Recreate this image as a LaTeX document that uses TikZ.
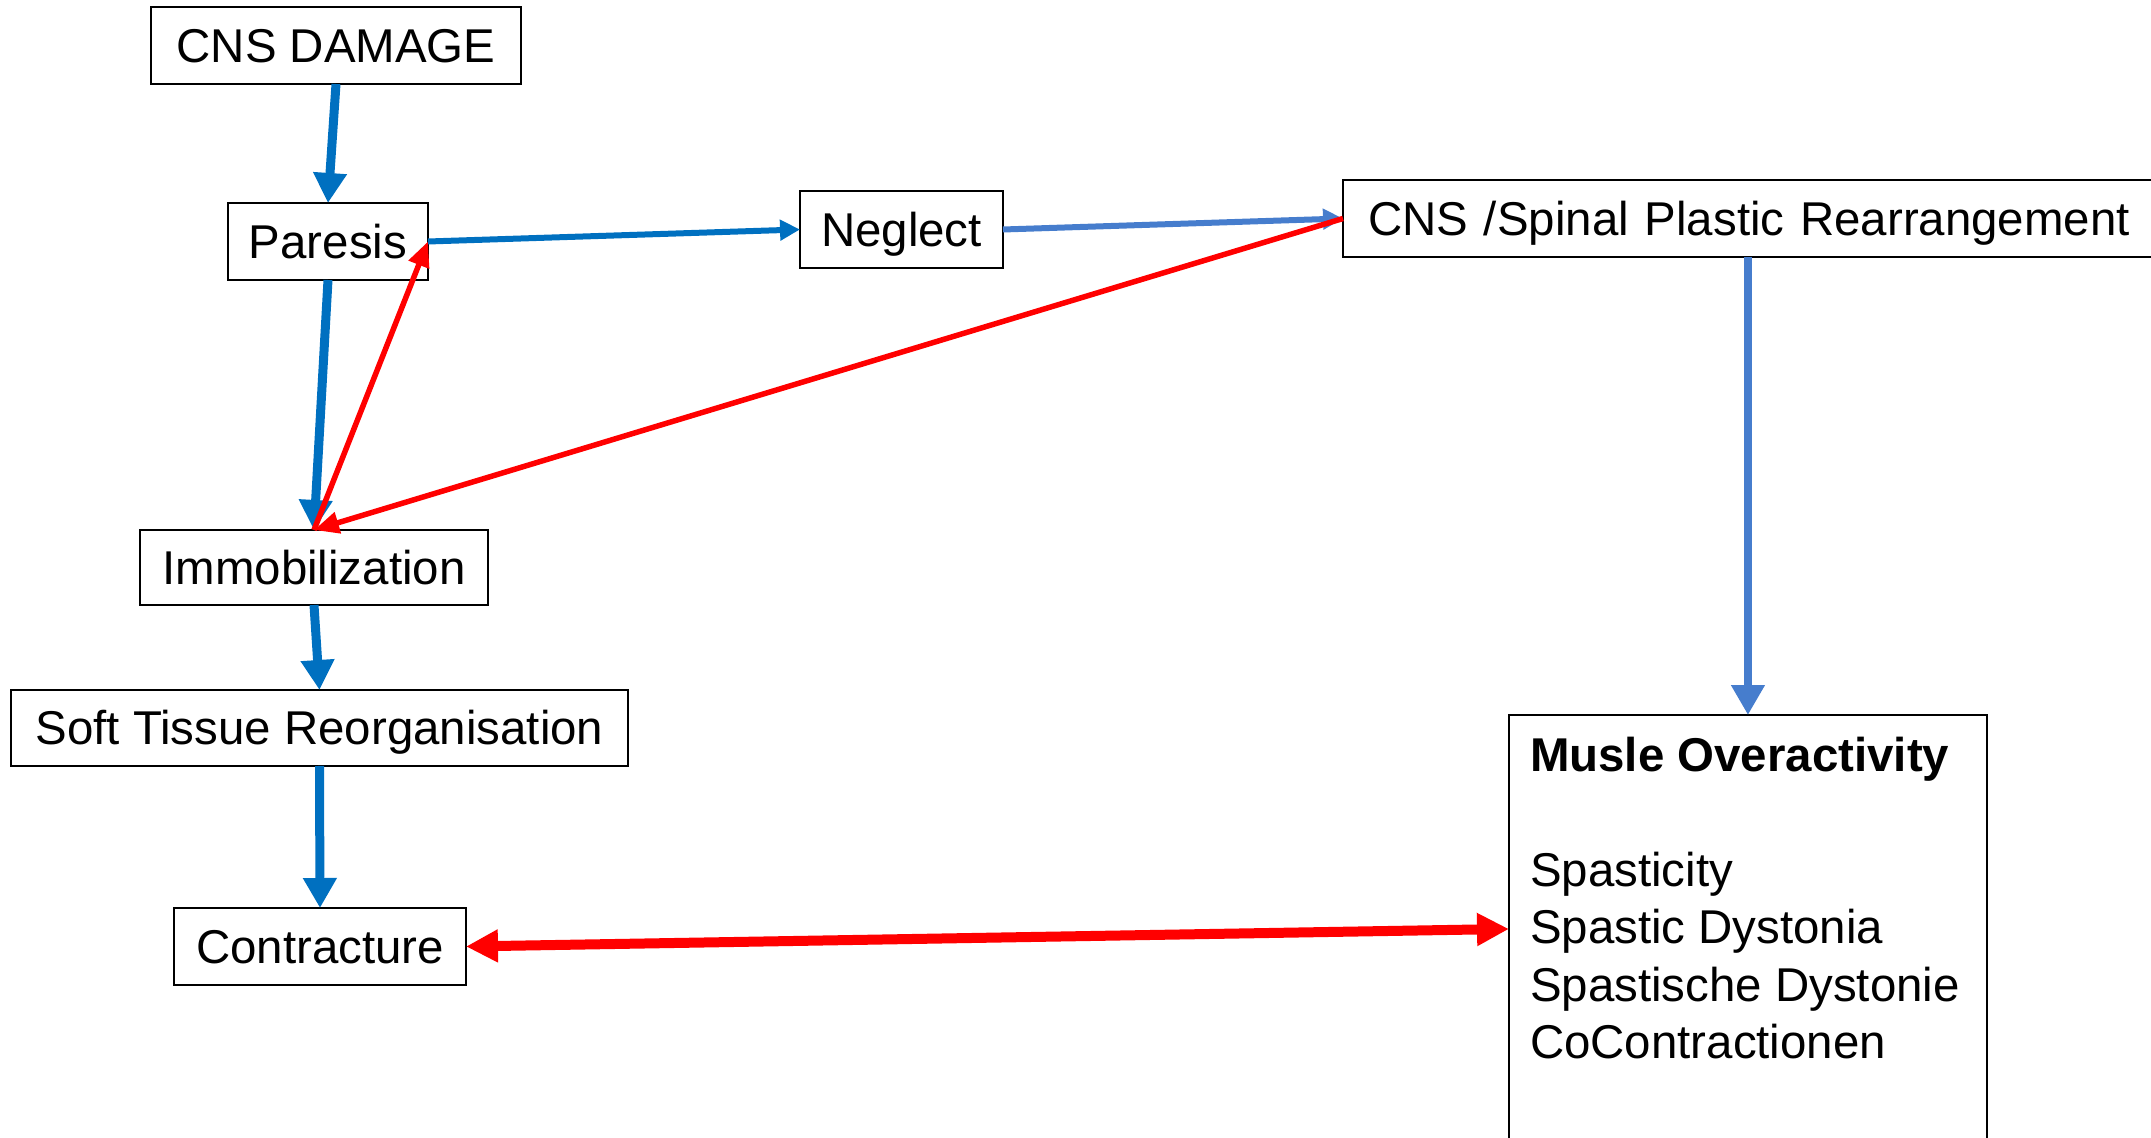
\documentclass[tikz,border=0pt]{standalone}
\usepackage{xcolor}
\definecolor{darkblue}{RGB}{0,112,192}
\definecolor{lightblue}{RGB}{70,125,205}
\definecolor{arrowred}{RGB}{255,0,0}
\usepackage{fontspec}
\setmainfont{Liberation Sans}
\usepackage{tikz}
\usetikzlibrary{arrows.meta}

\begin{document}
\begin{tikzpicture}[x=0.02cm,y=-0.02cm,every node/.style={font=\fontsize{27pt}{32.7pt}\selectfont,inner sep=0pt,outer sep=0pt},
box/.style={draw=black,line width=1.1pt,minimum height=1.54cm,text height=25pt,text depth=5.7pt},
bigblue/.style={draw=darkblue,line width=0.18cm,-{Triangle[width=0.64cm,length=0.6cm]}},
thinblue/.style={draw=darkblue,line width=0.12cm,-{Triangle[width=0.4cm,length=0.4cm]}},
thinred/.style={draw=arrowred,line width=0.11cm,-{Triangle[width=0.42cm,length=0.5cm]}}]
\useasboundingbox (0,0) rectangle (2151,1138);
% boxes
\node[box,minimum width=7.4cm] (damage) at (336,45.5) {CNS DAMAGE};
\node[box,minimum width=4cm] (paresis) at (328,241.5) {Paresis};
\node[box,minimum width=4.06cm] (neglect) at (901.5,229.5) {Neglect};
\node[box,anchor=west,text width=16cm,inner xsep=0.5cm,align=left] (spinal) at (1343,218.5) {CNS /Spinal Plastic Rearrangement};
\node[box,minimum width=6.96cm,minimum height=1.5cm] (immob) at (314,567.5) {Immobilization};
\node[box,minimum width=12.34cm,minimum height=1.52cm] (soft) at (319.5,728) {Soft Tissue Reorganisation};
\node[box,minimum width=5.84cm] (contract) at (320,946.5) {Contracture};
\node[draw=black,line width=1.1pt,anchor=north west,minimum width=9.56cm,minimum height=9cm] (musle) at (1509,715) {};
\node[anchor=north west,align=left] (musletext) at (1530,737) {\textbf{Musle Overactivity}\\[1.15cm]Spasticity\\Spastic Dystonia\\Spastische Dystonie\\CoContractionen};
% blue chain
\draw[bigblue] (damage.south) -- (paresis.north);
\draw[bigblue] (paresis.south) -- (immob.north);
\draw[bigblue] (immob.south) -- (soft.north);
\draw[bigblue] (soft.south) -- (contract.north);
\draw[thinblue] (paresis.east) -- (neglect.west);
\draw[thinblue,draw=lightblue,fill=lightblue] (neglect.east) -- (spinal.west);
\draw[bigblue,draw=lightblue,line width=0.16cm] (musle.north |- spinal.south) -- (musle.north);
% red feedback
\draw[thinred] (immob.north) -- (paresis.east);
\draw[thinred] (spinal.west) -- (immob.north);
\draw[draw=arrowred,line width=0.2cm,{Triangle[width=0.62cm,length=0.64cm]}-{Triangle[width=0.62cm,length=0.64cm]}] (contract.east) -- ([yshift=-4.28cm]musle.north west);
\end{tikzpicture}
\end{document}
